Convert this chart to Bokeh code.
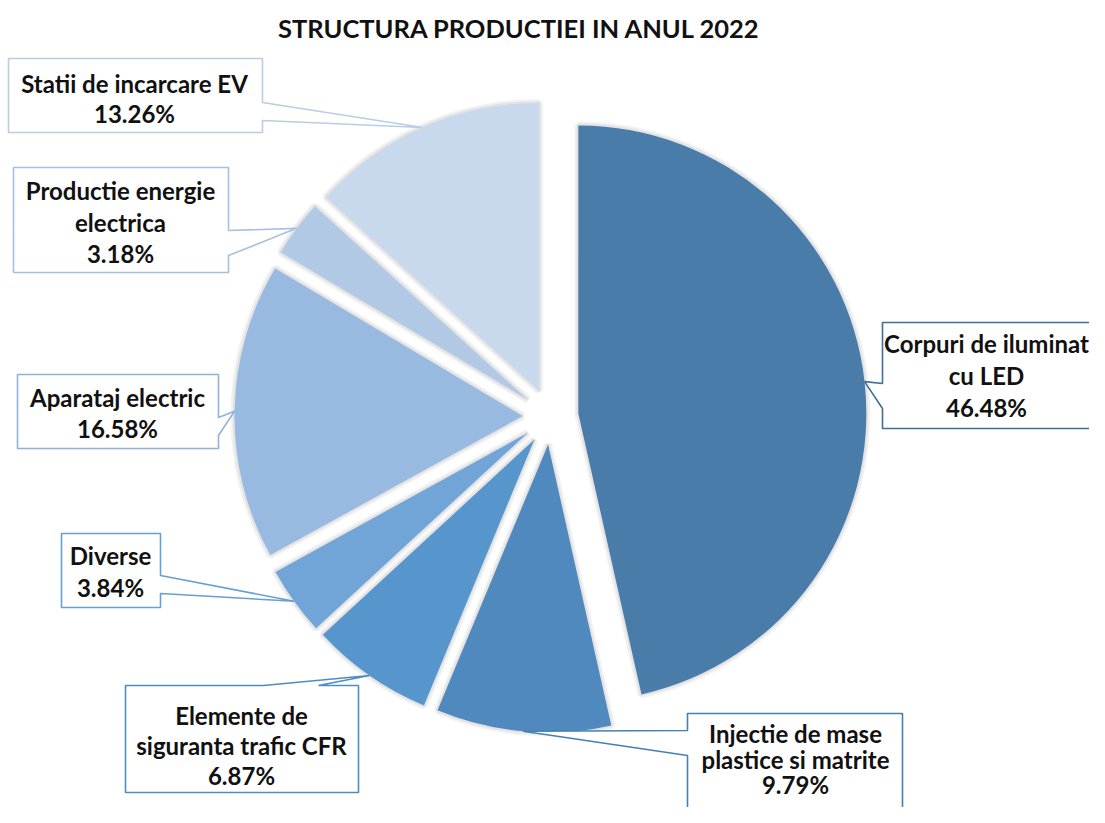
import math
from bokeh.plotting import figure
from bokeh.models import Range1d, ColumnDataSource
from bokeh.core.properties import value
from bokeh.embed import file_html
from bokeh.resources import INLINE

# ---------------- data ----------------
categories = [
    "Corpuri de iluminat cu LED",
    "Injectie de mase plastice si matrite",
    "Elemente de siguranta trafic CFR",
    "Diverse",
    "Aparataj electric",
    "Productie energie electrica",
    "Statii de incarcare EV",
]
shares = [46.48, 9.79, 6.87, 3.84, 16.58, 3.18, 13.26]
label_lines = [
    ["Corpuri de iluminat", "cu LED"],
    ["Injectie de mase", "plastice si matrite"],
    ["Elemente de", "siguranta trafic CFR"],
    ["Diverse"],
    ["Aparataj electric"],
    ["Productie energie", "electrica"],
    ["Statii de incarcare EV"],
]
title_text = "STRUCTURA PRODUCTIEI IN ANUL 2022"

# ---------------- style / layout ----------------
slice_colors = ["#497CA9", "#4F89BD", "#5796CC", "#72A5D7", "#98B9E0", "#B2C9E5", "#C8D9EE"]
box_colors = ["#3F6F98", "#4680B3", "#4E8CC2", "#66A0D2", "#8FB1DA", "#A6C0E0", "#B9CDE6"]
FONT = "Lato"
LABEL_SIZE = "24px"
TITLE_SIZE = "25.5px"
TEXT_COLOR = "#111111"

W, H = 1089, 807
def Y(sy):
    return H - sy

CX, CY = 550, 416      # pie centre (screen px)
R = 288                # radius
D = 28                 # explosion distance

# callout boxes: l, t, r, b, side, base_a, base_b, text centre x, first-line y, line step
boxes = [
    (882, 322, 1115, 428, "left", 383, 408, 986, 343, 32),
    (687, 713, 902, 840, "left", 730, 755, 795, 733, 25.5),
    (125, 685, 358, 792, "top", 263, 318, 241, 715, 30),
    (61, 533, 160, 607, "right", 575, 593, 110, 555, 32),
    (17, 374, 218, 448, "right", 417, 435, 117, 397, 31),
    (13, 167, 228, 272, "right", 230, 255, 120, 190, 31.5),
    (8, 58, 262, 132, "right", 102, 120, 134, 83, 30),
]

p = figure(width=W, height=H, output_backend="svg", toolbar_location=None,
           x_range=Range1d(0, W), y_range=Range1d(0, H),
           min_border=0, outline_line_color=None, background_fill_color="white",
           border_fill_color="white")
p.axis.visible = False
p.grid.visible = False

total = sum(shares)
xs, ys, starts, ends, tips = [], [], [], [], []
cum = 0.0
for v in shares:
    a0 = 360.0 * cum / total
    a1 = 360.0 * (cum + v) / total
    m = math.radians((a0 + a1) / 2)
    ax = CX + D * math.sin(m)
    ay = CY - D * math.cos(m)
    xs.append(ax)
    ys.append(Y(ay))
    starts.append(math.radians(90 - a1))
    ends.append(math.radians(90 - a0))
    tips.append((ax + R * math.sin(m), ay - R * math.cos(m)))
    cum += v

src = ColumnDataSource(dict(x=xs, y=ys, start=starts, end=ends, color=slice_colors,
                            name=categories, share=shares))

# soft shadow
p.wedge(x="x", y="y", radius=R, start_angle="start", end_angle="end", source=src,
        fill_alpha=0, line_color="black", line_alpha=0.05, line_width=8, direction="anticlock")
p.wedge(x="x", y="y", radius=R, start_angle="start", end_angle="end", source=src,
        fill_alpha=0, line_color="black", line_alpha=0.06, line_width=4, direction="anticlock")
p.wedge(x="x", y="y", radius=R, start_angle="start", end_angle="end", source=src,
        fill_color="color", line_color=None, direction="anticlock")

# callouts
pxs, pys = [], []
for (l, t, r, b, side, ba, bb, _, _, _), (tx, ty) in zip(boxes, tips):
    if side == "right":
        pts = [(l, t), (r, t), (r, ba), (tx, ty), (r, bb), (r, b), (l, b)]
    elif side == "left":
        pts = [(l, t), (r, t), (r, b), (l, b), (l, bb), (tx, ty), (l, ba)]
    else:
        pts = [(l, t), (ba, t), (tx, ty), (bb, t), (r, t), (r, b), (l, b)]
    pxs.append([q[0] for q in pts])
    pys.append([Y(q[1]) for q in pts])
p.patches(xs=pxs, ys=pys, fill_color="white", line_color=box_colors, line_width=1.6)

# label texts
tx_, ty_, tt_ = [], [], []
for lines, v, (l, t, r, b, side, ba, bb, cx, y0, step) in zip(label_lines, shares, boxes):
    allLines = lines + [f"{v:.2f}%"]
    for k, s in enumerate(allLines):
        tx_.append(cx)
        ty_.append(Y(y0 + k * step))
        tt_.append(s)
p.text(x=tx_, y=ty_, text=tt_, text_align="center", text_baseline="middle",
       text_font=value(FONT), text_font_style="bold", text_font_size=LABEL_SIZE,
       text_color=TEXT_COLOR)

# title
p.text(x=[519], y=[Y(27)], text=[title_text], text_align="center", text_baseline="middle",
       text_font=value(FONT), text_font_style="bold", text_font_size=TITLE_SIZE,
       text_color=TEXT_COLOR)

open("out.html", "w").write(file_html(p, INLINE))
